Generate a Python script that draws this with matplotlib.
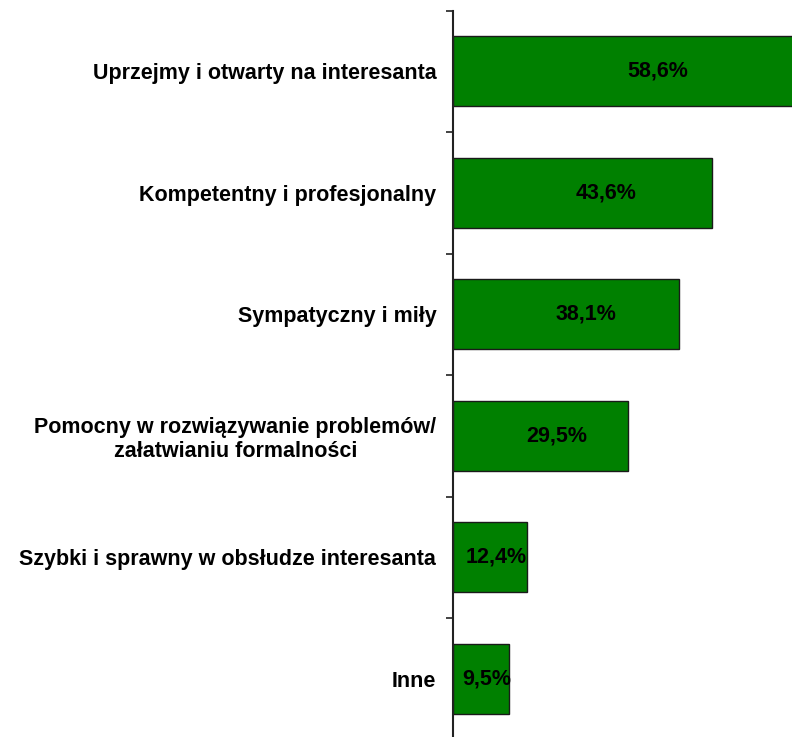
import matplotlib
matplotlib.use("Agg")
import matplotlib.pyplot as plt
import numpy as np

categories = [
    "Uprzejmy i otwarty na interesanta",
    "Kompetentny i profesjonalny",
    "Sympatyczny i miły",
    "Pomocny w rozwiązywanie problemów/\nzałatwianiu formalności",
    "Szybki i sprawny w obsłudze interesanta",
    "Inne",
]
values = [58.6, 43.6, 38.1, 29.5, 12.4, 9.5]
value_labels = ["58,6%", "43,6%", "38,1%", "29,5%", "12,4%", "9,5%"]

plt.rcParams['font.family'] = ['Liberation Sans', 'DejaVu Sans']

W, H = 792, 737
fig = plt.figure(figsize=(W / 100, H / 100), dpi=100)
# axes in pixel coordinates
x0, x1 = 453, 809
ytop, ybot = 10.7, 739.5
ax = fig.add_axes([x0 / W, 1 - ybot / H, (x1 - x0) / W, (ybot - ytop) / H])

n = len(categories)
y = np.arange(n)
ax.barh(y, values, height=0.576, color='#008000', edgecolor='#1a1a1a', linewidth=1.0, zorder=2)
ax.set_xlim(0, 60)
ax.set_ylim(n - 0.5, -0.5)

for yi, v, lab in zip(y, values, value_labels):
    ax.text(v * 0.59, yi, lab, ha='center', va='center', fontsize=15.5,
            fontweight='bold', color='black', zorder=3)

ax.set_yticks(y)
ax.set_yticklabels(categories, fontsize=15.5, fontweight='bold', multialignment='center',
                   linespacing=1.15)
ax.tick_params(axis='y', which='major', length=0, pad=12)
ax.set_yticks(np.arange(n + 1) - 0.5, minor=True)
ax.tick_params(axis='y', which='minor', length=5, width=1.2, direction='out', color='#222222')

ax.set_xticks([])
for s in ['top', 'right', 'bottom']:
    ax.spines[s].set_visible(False)
ax.spines['left'].set_linewidth(1.5)
ax.spines['left'].set_color('#222222')

fig.savefig('out.png', dpi=100)
